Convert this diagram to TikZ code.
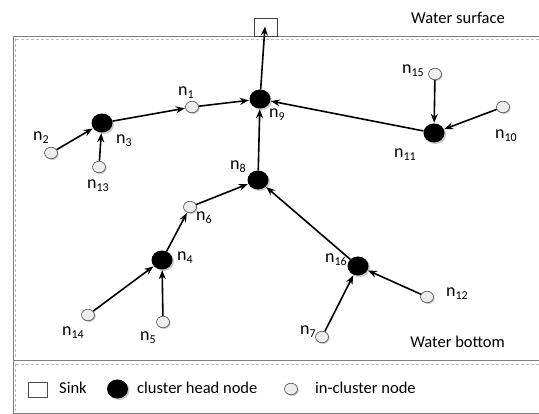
\documentclass[tikz,border=0pt]{standalone}
\usepackage{fontspec}
\setmainfont{Carlito}
\usetikzlibrary{arrows.meta,shapes.geometric,shadows}
\newcommand\nsub[1]{n\raisebox{-3pt}{\fontsize{12}{12}\selectfont #1}}
\begin{document}
\begin{tikzpicture}[x=1pt,y=-1pt,
  ch/.style={ellipse,fill=black,minimum width=21pt,minimum height=19pt,inner sep=0pt,
    drop shadow={shadow xshift=1.5pt,shadow yshift=-1.5pt,fill=black!30,opacity=0.7}},
  ic/.style={ellipse,draw=black!70,line width=0.6pt,fill=black!7,minimum width=13pt,minimum height=11.5pt,inner sep=0pt,
    drop shadow={shadow xshift=1.2pt,shadow yshift=-1.2pt,fill=black!30,opacity=0.7}},
  lbl/.style={font=\fontsize{18}{20}\selectfont,inner sep=0pt},
  link/.style={line width=1.6pt,-{Stealth[length=9pt,width=7pt]},shorten >=0.5pt},
  frame/.style={draw=black!50,line width=0.8pt},
  dframe/.style={draw=black!25,line width=0.6pt,densely dashed},
  txt/.style={font=\fontsize{16.5}{18}\selectfont,inner sep=0pt}]
\useasboundingbox (0,0) rectangle (539,414);
% frame
\draw[frame] (13,36.5) -- (545,36.5);
\draw[dframe] (15.5,39.5) -- (545,39.5);
\draw[dframe] (15.5,39.5) -- (15.5,359);
\draw[frame] (13,36.5) -- (13,413) -- (545,413);
\draw[frame] (13,360.5) -- (545,360.5);
\draw[dframe] (15.5,364.5) -- (545,364.5);
\draw[dframe] (15.5,364.5) -- (15.5,411);
% sink
\node[draw=black!75,line width=0.7pt,fill=white,minimum width=23pt,minimum height=18pt,inner sep=0pt] (sink) at (265.5,27) {};
\coordinate (sinktip) at (265,26);
\node[txt,anchor=east] (ws) at (505,18) {Water surface};
\node[txt,anchor=east] (wb) at (505,342) {Water bottom};
% nodes
\node[ch] (n9) at (260,99) {};
\node[ic] (n1) at (192,107) {};
\node[ch] (n3) at (102,123) {};
\node[ic] (n2) at (51,153) {};
\node[ic] (n13) at (99,167) {};
\node[ch] (n8) at (258,180) {};
\node[ic] (n6) at (190,207) {};
\node[ch] (n4) at (162,260) {};
\node[ic] (n14) at (88,315) {};
\node[ic] (n5) at (163,322) {};
\node[ch] (n16) at (358,266) {};
\node[ic] (n7) at (322,337) {};
\node[ic] (n12) at (427,297) {};
\node[ch] (n11) at (434,133) {};
\node[ic] (n15) at (435,74) {};
\node[ic] (n10) at (503,107) {};
% labels
\node[lbl] (l1) at (186,93) {\nsub{1}};
\node[lbl] (l2) at (41,138) {\nsub{2}};
\node[lbl] (l3) at (124,141) {\nsub{3}};
\node[lbl] (l4) at (185,258) {\nsub{4}};
\node[lbl] (l5) at (148,338) {\nsub{5}};
\node[lbl] (l6) at (204,218) {\nsub{6}};
\node[lbl] (l7) at (308,332) {\nsub{7}};
\node[lbl] (l8) at (238,167) {\nsub{8}};
\node[lbl] (l9) at (277,115) {\nsub{9}};
\node[lbl] (l10) at (506,136) {\nsub{10}};
\node[lbl] (l11) at (405,155) {\nsub{11}};
\node[lbl] (l12) at (457,294) {\nsub{12}};
\node[lbl] (l13) at (98,186) {\nsub{13}};
\node[lbl] (l14) at (73,333) {\nsub{14}};
\node[lbl] (l15) at (413,71) {\nsub{15}};
\node[lbl] (l16) at (336,260) {\nsub{16}};
% links
\draw[link] (n9) -- (sinktip);
\draw[link] (n1) -- (n9);
\draw[link] (n3) -- (n1);
\draw[link] (n2) -- (n3);
\draw[link] (n13) -- (n3);
\draw[link] (n8) -- (n9);
\draw[link] (n11) -- (n9);
\draw[link] (n15) -- (n11);
\draw[link] (n10) -- (n11);
\draw[link] (n6) -- (n8);
\draw[link] (n4) -- (n6);
\draw[link] (n14) -- (n4);
\draw[link] (n5) -- (n4);
\draw[link] (n16) -- (n8);
\draw[link] (n7) -- (n16);
\draw[link] (n12) -- (n16);
% legend
\node[draw=black!70,line width=0.7pt,minimum width=19pt,minimum height=15pt,inner sep=0pt] (lgs) at (37.5,389.5) {};
\node[txt,anchor=west] (lgst) at (59,388) {Sink};
\node[ch] (lgc) at (117.5,389) {};
\node[txt,anchor=west] (lgct) at (137,388) {cluster head node};
\node[ic] (lgi) at (291,389) {};
\node[txt,anchor=west] (lgit) at (315,388) {in-cluster node};
\end{tikzpicture}
\end{document}
